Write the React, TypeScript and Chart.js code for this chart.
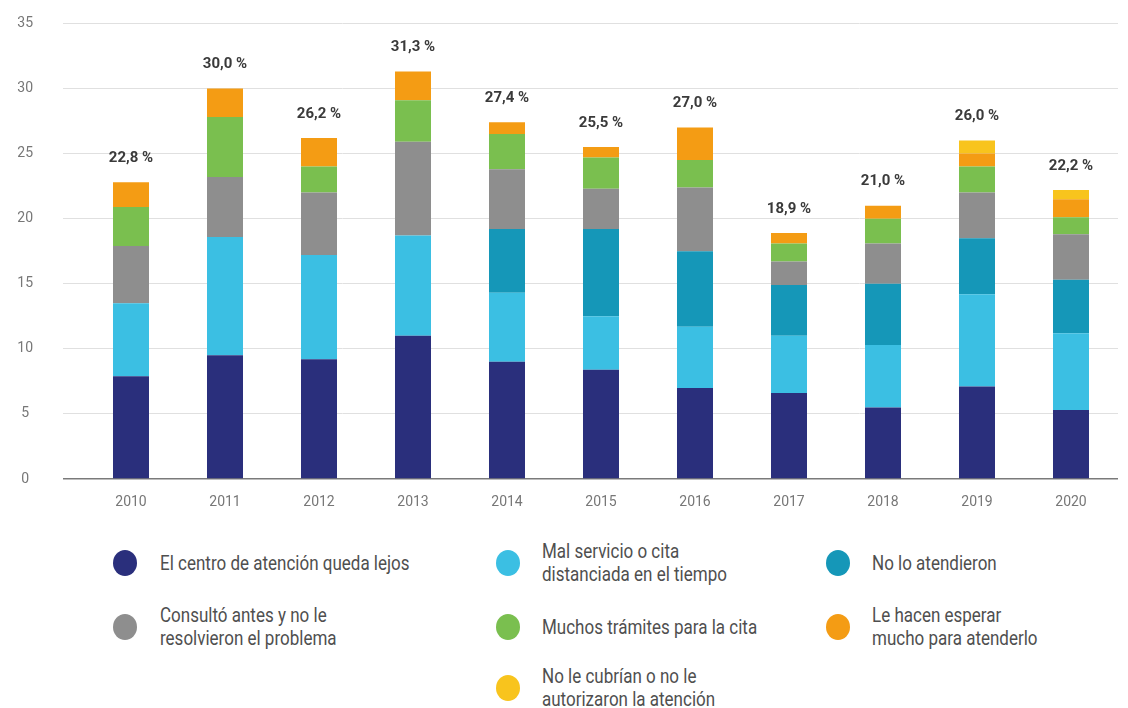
import React, { useEffect, useRef } from "react";
import { Chart, registerables } from "chart.js";

Chart.register(...registerables);

const years = ["2010", "2011", "2012", "2013", "2014", "2015", "2016", "2017", "2018", "2019", "2020"];
const totals = [22.8, 30.0, 26.2, 31.3, 27.4, 25.5, 27.0, 18.9, 21.0, 26.0, 22.2];

const lejos = [7.9, 9.5, 9.2, 11.0, 9.0, 8.4, 7.0, 6.6, 5.5, 7.1, 5.3];
const malServicio = [5.6, 9.1, 8.0, 7.7, 5.3, 4.1, 4.7, 4.4, 4.8, 7.1, 5.9];
const noAtendieron = [null, null, null, null, 4.9, 6.7, 5.8, 3.9, 4.7, 4.3, 4.1];
const consulto = [4.4, 4.6, 4.8, 7.2, 4.6, 3.1, 4.9, 1.8, 3.1, 3.5, 3.5];
const tramites = [3.0, 4.6, 2.0, 3.2, 2.7, 2.4, 2.1, 1.4, 1.9, 2.0, 1.3];
const esperar = [1.9, 2.2, 2.2, 2.2, 0.9, 0.8, 2.5, 0.8, 1.0, 1.0, 1.4];
const noCubrian = [null, null, null, null, null, null, null, null, null, 1.0, 0.7];

const seriesLabels = [
  "El centro de atención queda lejos",
  "Mal servicio o cita distanciada en el tiempo",
  "No lo atendieron",
  "Consultó antes y no le resolvieron el problema",
  "Muchos trámites para la cita",
  "Le hacen esperar mucho para atenderlo",
  "No le cubrían o no le autorizaron la atención",
];
const seriesColors = ["#2a2f7c", "#3bbfe3", "#1597b8", "#8e8e8e", "#7abf4f", "#f49c14", "#f8c41d"];
const seriesData = [lejos, malServicio, noAtendieron, consulto, tramites, esperar, noCubrian];
const yTicks = [0, 5, 10, 15, 20, 25, 30, 35];

const legendLayout = [
  { i: 0, cx: 125, cy: 563, tx: 160, lines: ["El centro de atención queda lejos"] },
  { i: 1, cx: 508, cy: 563, tx: 542, lines: ["Mal servicio o cita", "distanciada en el tiempo"] },
  { i: 2, cx: 838, cy: 563, tx: 872, lines: ["No lo atendieron"] },
  { i: 3, cx: 125, cy: 627, tx: 160, lines: ["Consultó antes y no le", "resolvieron el problema"] },
  { i: 4, cx: 508, cy: 627, tx: 542, lines: ["Muchos trámites para la cita"] },
  { i: 5, cx: 838, cy: 627, tx: 872, lines: ["Le hacen esperar", "mucho para atenderlo"] },
  { i: 6, cx: 508, cy: 688, tx: 542, lines: ["No le cubrían o no le", "autorizaron la atención"] },
];

const totalsPlugin = {
  id: "totalsPlugin",
  afterDatasetsDraw(chart: any) {
    const ctx = chart.ctx;
    const yScale = chart.scales.y;
    const xScale = chart.scales.x;
    ctx.save();
    ctx.font = "bold 15px Roboto, 'DejaVu Sans', sans-serif";
    ctx.fillStyle = "#3a3a3a";
    ctx.textAlign = "center";
    ctx.textBaseline = "middle";
    totals.forEach((t, i) => {
      const x = xScale.getPixelForValue(i);
      const y = yScale.getPixelForValue(t);
      ctx.fillText(t.toFixed(1).replace(".", ",") + " %", x, y - 24);
    });
    ctx.restore();
  },
};

export default function App() {
  const canvasRef = useRef<HTMLCanvasElement | null>(null);

  useEffect(() => {
    document.documentElement.style.overflow = "hidden";
    if (!canvasRef.current) return;
    const chart = new Chart(canvasRef.current, {
      type: "bar",
      data: {
        labels: years,
        datasets: seriesData.map((d, k) => ({
          label: seriesLabels[k],
          data: d as any,
          backgroundColor: seriesColors[k],
          borderWidth: 0,
          barPercentage: 0.383,
          categoryPercentage: 1,
        })),
      },
      options: {
        responsive: true,
        maintainAspectRatio: false,
        animation: false,
        layout: { padding: { top: 0, right: 2, left: 0, bottom: 0 } },
        plugins: {
          legend: { display: false },
          tooltip: { enabled: false },
        },
        scales: {
          x: {
            stacked: true,
            grid: { display: false },
            border: { display: false },
            ticks: {
              color: "#777",
              font: { family: "Roboto, 'DejaVu Sans', sans-serif", size: 14 },
              padding: 7,
            },
            afterFit: (s: any) => {
              s.height = 49;
            },
          },
          y: {
            stacked: true,
            min: 0,
            max: 35,
            afterBuildTicks: (s: any) => {
              s.ticks = yTicks.map((v) => ({ value: v }));
            },
            grid: {
              color: (c: any) => (c.tick && c.tick.value === 0 ? "#7a7a7a" : "#e0e0e0"),
              lineWidth: (c: any) => (c.tick && c.tick.value === 0 ? 1.5 : 1),
              tickLength: 21,
            },
            border: { display: false },
            ticks: {
              color: "#777",
              font: { family: "Roboto, 'DejaVu Sans', sans-serif", size: 14 },
              padding: 30,
              crossAlign: "center",
            },
            afterFit: (s: any) => {
              s.width = 76;
            },
          },
        },
      },
      plugins: [totalsPlugin],
    });
    return () => chart.destroy();
  }, []);

  const font = "Roboto, 'DejaVu Sans', sans-serif";

  return (
    <div style={{ position: "relative", width: 1112, height: 700 }}>
      <div style={{ position: "absolute", left: 0, top: -23, width: 1112, height: 543 }}>
        <canvas ref={canvasRef} />
      </div>
      {legendLayout.map((it) => (
        <React.Fragment key={it.i}>
          <div
            style={{
              position: "absolute",
              left: it.cx - 8 - 12,
              top: it.cy - 8 - 13,
              width: 24,
              height: 26,
              borderRadius: "50%",
              background: seriesColors[it.i],
            }}
          />
          <div
            title={seriesLabels[it.i]}
            style={{
              position: "absolute",
              left: it.tx - 8,
              top: it.cy - 8 - (it.lines.length * 23) / 2,
              fontFamily: font,
              fontSize: 20,
              lineHeight: "23px",
              color: "#4f4f4f",
              whiteSpace: "nowrap",
              transform: "scaleX(0.85)",
              transformOrigin: "left center",
            }}
          >
            {it.lines.map((l, j) => (
              <div key={j}>{l}</div>
            ))}
          </div>
        </React.Fragment>
      ))}
    </div>
  );
}
